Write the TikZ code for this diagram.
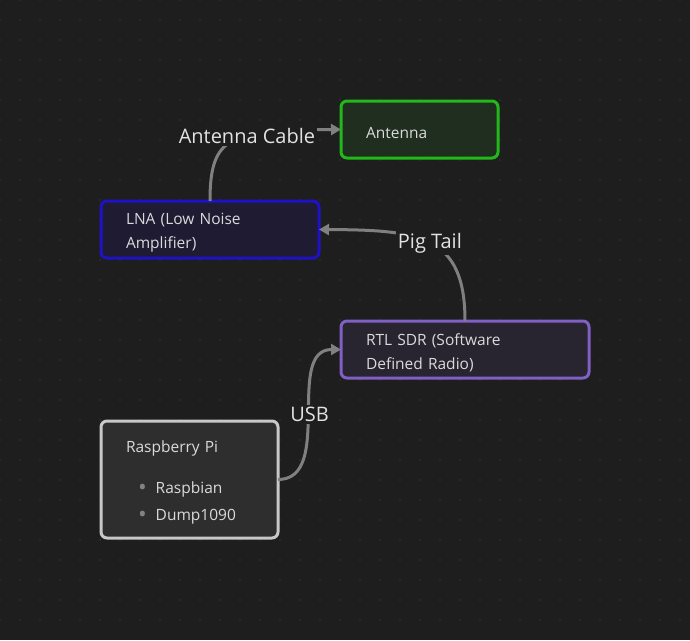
\documentclass[tikz,border=0pt]{standalone}
\usepackage{fontspec}
\setmainfont{Open Sans}
\usetikzlibrary{arrows.meta,positioning}

\definecolor{bgcol}{RGB}{30,30,30}
\definecolor{dotcol}{RGB}{52,52,52}
\definecolor{edgecol}{RGB}{128,128,128}
\definecolor{txtcol}{RGB}{218,218,218}
\definecolor{labcol}{RGB}{226,226,226}
\definecolor{bulcol}{RGB}{130,130,130}
\definecolor{antfill}{RGB}{31,46,31}
\definecolor{antdraw}{RGB}{34,184,26}
\definecolor{lnafill}{RGB}{30,27,50}
\definecolor{lnadraw}{RGB}{30,18,196}
\definecolor{rtlfill}{RGB}{40,37,48}
\definecolor{rtldraw}{RGB}{128,96,196}
\definecolor{pifill}{RGB}{46,46,46}
\definecolor{pidraw}{RGB}{200,200,200}

\newcommand{\bul}{\hspace*{12pt}\raisebox{-1.5pt}{\color{bulcol}\scalebox{1.5}{\textbullet}}\hspace{9pt}}

\begin{document}
\begin{tikzpicture}[x=1pt,y=-1pt,>={Triangle[length=10pt,width=11pt]},
                    box/.style={draw,rounded corners=6pt,line width=3pt,outer sep=0pt,
                      anchor=north west,align=left,inner xsep=25pt,inner ysep=0pt,
                      text=txtcol,font=\fontsize{15.5}{24}\selectfont,
                      execute at begin node={\rule{0pt}{18pt}}},
                    link/.style={draw=edgecol,line width=3pt},
                    lab/.style={fill=bgcol,text=labcol,inner sep=2pt,
                      font=\fontsize{20}{22}\selectfont}]

  \useasboundingbox (0,0) rectangle (690,640);
  \clip (0,0) rectangle (690,640);

  % background with dot grid
  \fill[bgcol] (0,0) rectangle (690,640);
  \foreach \x in {0,20,...,680}
    \foreach \y in {0,20,...,620}
      \fill[dotcol] (\x,\y) circle (0.9pt);

  \node[box,fill=antfill,draw=antdraw,minimum width=157pt,minimum height=57pt,
        text width=107pt]   (ant) at (341,101) {Antenna};
  \node[box,fill=lnafill,draw=lnadraw,minimum width=218pt,minimum height=57pt,
        text width=168pt]   (lna) at (101,201) {LNA (Low Noise\\Amplifier)};
  \node[box,fill=rtlfill,draw=rtldraw,minimum width=248pt,minimum height=57pt,
        text width=198pt]   (rtl) at (341,321) {RTL SDR (Software\\Defined Radio)};
  \node[box,fill=pifill,draw=pidraw,minimum width=177pt,minimum height=117pt,
        text width=127pt,font=\fontsize{15.5}{27}\selectfont]
                            (pi)  at (101,421)
        {Raspberry Pi\\[14pt]
         \bul Raspbian\\
         \bul Dump1090};

  \path[link,->] (lna.north -| 210,0) .. controls (210,135) and (230,130) ..
                 node[lab,pos=0.6] {Antenna Cable} (ant.west);
  \path[link,->] (rtl.north -| 465,0) .. controls (465,235) and (420,230) ..
                 node[lab,pos=0.5] {Pig Tail} (lna.east);
  \path[link,->] (pi.east) to[out=0,in=180]
                 node[lab] {USB} (rtl.west);
\end{tikzpicture}
\end{document}
